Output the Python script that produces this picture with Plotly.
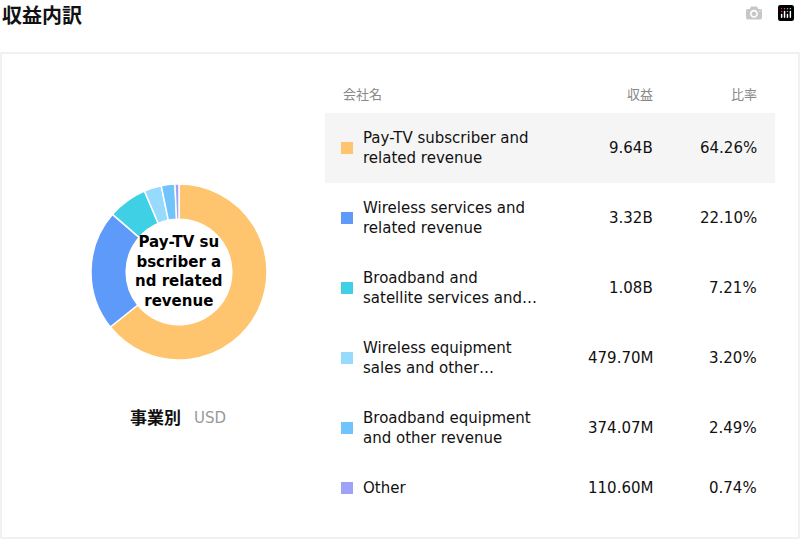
import plotly.graph_objects as go

labels = ["Pay-TV subscriber and related revenue", "Wireless services and related revenue",
          "Broadband and satellite services and other revenue", "Wireless equipment sales and other revenue",
          "Broadband equipment and other revenue", "Other"]
row_names = ["Pay-TV subscriber and<br>related revenue", "Wireless services and<br>related revenue",
             "Broadband and<br>satellite services and…", "Wireless equipment<br>sales and other…",
             "Broadband equipment<br>and other revenue", "Other"]
values = [9.64e9, 3.32e9, 1.08e9, 479.70e6, 374.07e6, 110.60e6]
value_labels = ["9.64B", "3.32B", "1.08B", "479.70M", "374.07M", "110.60M"]
ratios = ["64.26%", "22.10%", "7.21%", "3.20%", "2.49%", "0.74%"]
colors = ["#FFC46E", "#5E9AFA", "#40D0E6", "#96DAFD", "#70C3FB", "#9EA3F8"]
row_y = [148, 218, 288, 358, 428, 488]

W, H = 800, 539
def px(x): return x / W
def py(y): return 1 - y / H

fig = go.Figure(go.Pie(labels=labels, values=values, hole=0.6, sort=False, direction="clockwise",
                       rotation=0, marker=dict(colors=colors, line=dict(color="white", width=1.5)),
                       textinfo="none", hoverinfo="label+value",
                       domain=dict(x=[px(91), px(267)], y=[py(360), py(184)])))
shapes = [
    dict(type="rect", xref="paper", yref="paper", x0=px(1), x1=px(799), y0=py(538), y1=py(53),
         line=dict(color="#E3E3E8", width=1), fillcolor="rgba(0,0,0,0)", layer="below"),
    dict(type="rect", xref="paper", yref="paper", x0=px(325), x1=px(775), y0=py(183), y1=py(113),
         line=dict(width=0), fillcolor="#F5F5F5", layer="below"),
]
ann = [
    dict(x=0, y=py(16), text="<b>収益内訳</b>", xanchor="left", font=dict(size=20, color="#111")),
    dict(x=px(179), y=py(271), text="<b>Pay-TV su<br>bscriber a<br>nd related<br>revenue</b>",
         font=dict(size=15, color="#000")),
    dict(x=px(183), y=py(418), text="<b>事業別</b>", xanchor="right", font=dict(size=17, color="#111")),
    dict(x=px(192), y=py(418), text="USD", xanchor="left", font=dict(size=15, color="#999")),
    dict(x=px(341), y=py(95), text="会社名", xanchor="left", font=dict(size=13, color="#888")),
    dict(x=px(655), y=py(95), text="収益", xanchor="right", font=dict(size=13, color="#888")),
    dict(x=px(759), y=py(95), text="比率", xanchor="right", font=dict(size=13, color="#888")),
]
for i in range(len(labels)):
    y = row_y[i]
    shapes.append(dict(type="rect", xref="paper", yref="paper", x0=px(341), x1=px(353),
                       y0=py(y + 6), y1=py(y - 6), line=dict(width=0), fillcolor=colors[i]))
    ann += [
        dict(x=px(361), y=py(y), text=row_names[i], xanchor="left", align="left", font=dict(size=15, color="#111")),
        dict(x=px(655), y=py(y), text=value_labels[i], xanchor="right", font=dict(size=15, color="#111")),
        dict(x=px(759), y=py(y), text=ratios[i], xanchor="right", font=dict(size=15, color="#111")),
    ]
for a in ann:
    a.update(xref="paper", yref="paper", showarrow=False)
    a.setdefault("yanchor", "middle")
    a.setdefault("xanchor", "center")

fig.update_layout(width=W, height=H, margin=dict(l=0, r=0, t=0, b=0), showlegend=False,
                  paper_bgcolor="white", shapes=shapes, annotations=ann,
                  font=dict(family="DejaVu Sans, Noto Sans CJK JP"))
fig.write_html("out.html", post_script="document.body.style.margin='0';document.body.style.overflow='hidden';")
